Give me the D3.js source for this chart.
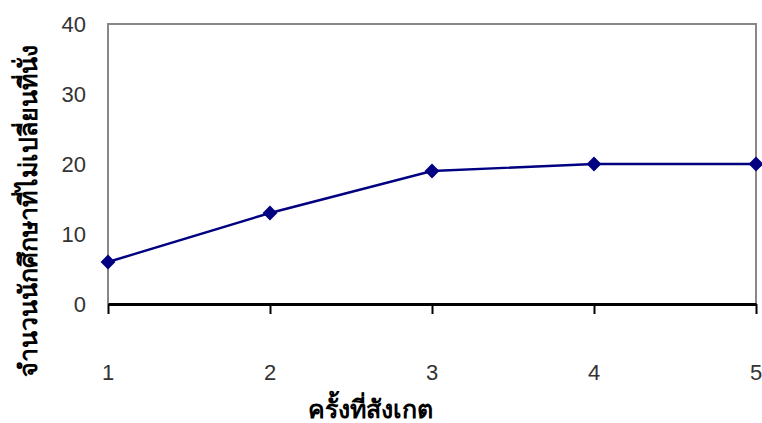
<!DOCTYPE html>
<html>
<head>
<meta charset="utf-8">
<script src="https://cdn.jsdelivr.net/npm/d3@7"></script>
<style>
  html, body { margin: 0; padding: 0; background: #fff; }
  svg { display: block; }
</style>
</head>
<body>
<svg id="chart" width="762" height="423"></svg>
<script>
// Observation rounds and count of students who did not change seat
const rounds = [1, 2, 3, 4, 5];
const counts = [6, 13, 19, 20, 20];
const yTicks = [0, 10, 20, 30, 40];
const xTitle = "ครั้งที่สังเกต";
const yTitle = "จำนวนนักศึกษาที่ไม่เปลี่ยนที่นั่ง";

const svg = d3.select("#chart");
const plotLeft = 108, plotRight = 756, plotTop = 24, plotBottom = 304;
const numFont = "Liberation Sans, Arial, sans-serif";

const x = d3.scalePoint().domain(rounds).range([plotLeft, plotRight]);
const y = d3.scaleLinear().domain([0, 40]).range([plotBottom, plotTop]);

// plot frame: grey on top, left and right
svg.append("path")
  .attr("d", `M${plotLeft},${plotBottom} L${plotLeft},${plotTop} L${plotRight},${plotTop} L${plotRight},${plotBottom}`)
  .attr("fill", "none").attr("stroke", "#888").attr("stroke-width", 2);

// y axis labels
svg.append("g").selectAll("text").data(yTicks).join("text")
  .attr("x", 86).attr("y", d => y(d)).attr("dy", "0.36em")
  .attr("text-anchor", "end")
  .attr("font-family", numFont)
  .attr("font-size", 22).attr("fill", "#333")
  .text(d => d);

// x axis line and ticks
const xAxis = d3.axisBottom(x).tickSize(10).tickSizeOuter(0).tickFormat("");
const gx = svg.append("g").attr("transform", `translate(0,${plotBottom})`).call(xAxis);
gx.select(".domain").attr("stroke", "#000").attr("stroke-width", 3);
gx.selectAll(".tick line").attr("stroke", "#000").attr("stroke-width", 2);

// x category labels
svg.append("g").selectAll("text").data(rounds).join("text")
  .attr("x", d => x(d)).attr("y", 380)
  .attr("text-anchor", "middle")
  .attr("font-family", numFont)
  .attr("font-size", 22).attr("fill", "#333")
  .text(d => d);

// data line
const line = d3.line().x((d, i) => x(rounds[i])).y(d => y(d));
svg.append("path").datum(counts)
  .attr("d", line).attr("fill", "none")
  .attr("stroke", "#000080").attr("stroke-width", 2.4);

// diamond markers
const diamond = d3.symbol().type(d3.symbolDiamond2).size(140);
svg.append("g").selectAll("path").data(counts).join("path")
  .attr("transform", (d, i) => `translate(${x(rounds[i])},${y(d)})`)
  .attr("d", diamond).attr("fill", "#000080");

// axis titles
svg.append("text")
  .attr("x", 370).attr("y", 418)
  .attr("text-anchor", "middle")
  .attr("font-family", "Liberation Serif, serif")
  .attr("font-weight", "bold").attr("font-size", 25).attr("fill", "#000")
  .text(xTitle);

svg.append("text")
  .attr("transform", "translate(37,211) rotate(-90)")
  .attr("text-anchor", "middle")
  .attr("font-family", "Liberation Serif, serif")
  .attr("font-weight", "bold").attr("font-size", 25).attr("fill", "#000")
  .text(yTitle);
</script>
</body>
</html>
